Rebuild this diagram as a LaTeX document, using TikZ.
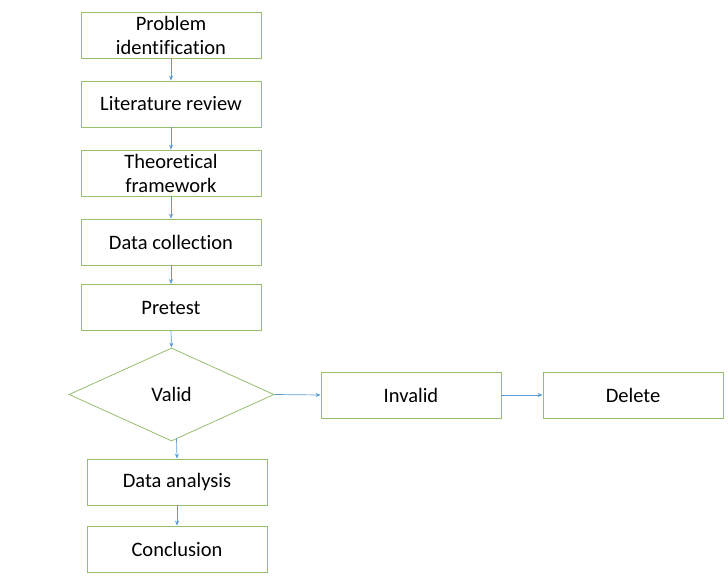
\documentclass[tikz,border=0pt]{standalone}
\usepackage{fontspec}
\setmainfont{Carlito}[Ligatures={NoCommon}]
\usetikzlibrary{arrows.meta,shapes.geometric,calc}
\definecolor{boxgreen}{RGB}{150,190,110}
\definecolor{arrowblue}{RGB}{91,155,213}
\tikzset{
  stepbox/.style={draw=boxgreen, line width=0.8pt, minimum width=180pt, minimum height=46pt,
    inner sep=0pt, align=center, font=\fontsize{20.5}{24}\selectfont, text=black},
  decision/.style={draw=boxgreen, line width=0.8pt, diamond, minimum width=205pt, minimum height=93pt,
    inner sep=0pt, font=\fontsize{20.5}{24}\selectfont, text=black},
  flow/.style={draw=arrowblue, line width=0.7pt, -{Stealth[length=5pt,width=4pt]}}
}
\begin{document}
\begin{tikzpicture}[x=1pt,y=-1pt]
\useasboundingbox (0,0) rectangle (728,586);
\node[stepbox] (pi) at (171,35) {Problem\\identification};
\node[stepbox] (lr) at (171,104) {Literature review};
\node[stepbox] (tf) at (171,173) {Theoretical\\framework};
\node[stepbox] (dc) at (171,242) {Data collection};
\node[stepbox] (pt) at (171,307.5) {Pretest};
\node[decision] (va) at (171.5,394.5) {Valid};
\node[stepbox] (iv) at (411,395) {Invalid};
\node[stepbox] (de) at (633,395) {Delete};
\node[stepbox] (da) at (177,482) {Data analysis};
\node[stepbox] (co) at (177,549) {Conclusion};
\draw[flow] (pi) -- (lr);
\draw[flow] (lr) -- (tf);
\draw[flow] (tf) -- (dc);
\draw[flow] (dc) -- (pt);
\draw[flow] (pt.south) -- (va.north);
\draw[flow] (va.east) -- (iv.west);
\draw[flow] (iv.east) -- (de.west);
\draw[flow] ($(va.south)+(5,-3)$) -- (da.north);
\draw[flow] (da) -- (co);
\end{tikzpicture}
\end{document}
